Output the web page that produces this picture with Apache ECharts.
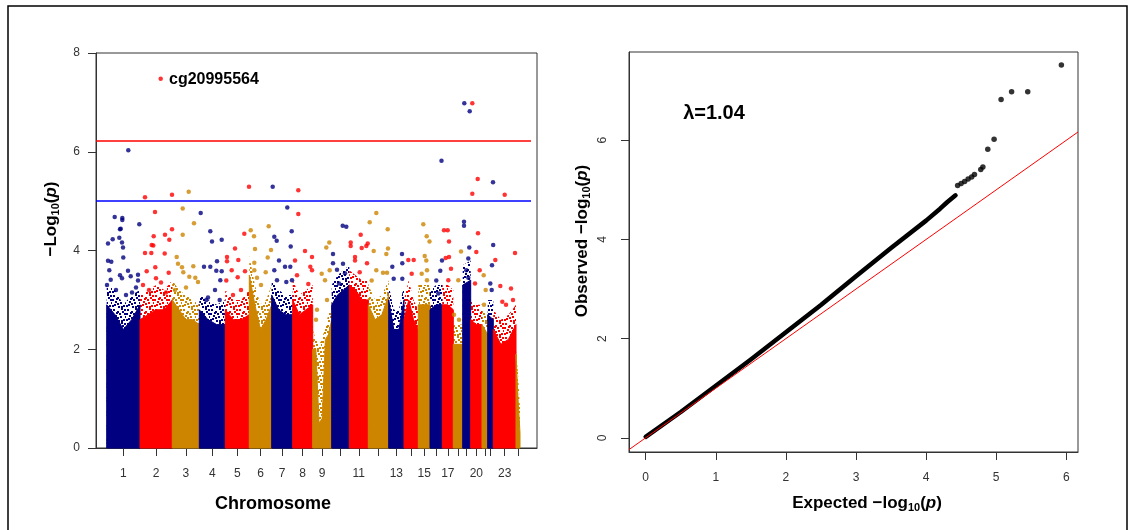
<!DOCTYPE html>
<html>
<head>
<meta charset="utf-8">
<script src="https://cdn.jsdelivr.net/npm/echarts@6/dist/echarts.min.js"></script>
<style>html,body{margin:0;padding:0;background:#fff;}#c{width:1134px;height:530px;}</style>
</head>
<body>
<div id="c"></div>
<script>
// ---------------- DATA ----------------
// Manhattan plot: cumulative genomic position units
const chrNames = ['1','2','3','4','5','6','7','8','9','10','11','12','13','14','15','16','17','18','19','20','21','22','23','24'];
const shownLabels = ['1','2','3','4','5','6','7','8','9','11','13','15','17','20','23'];
const chrBounds = [10.7, 44, 76.3, 103.3, 129.3, 153.3, 175.7, 196.7, 216.7, 235.7, 253.3, 272.3, 292.7, 308, 322.3, 334, 346.3, 357.3, 366.7, 374.7, 386, 391.7, 397.3, 420, 424];
// upper edge of the solid mass of probes, sampled evenly across each chromosome
const chrDenseTop = [
  [2.9, 2.7, 2.4, 2.6, 2.9],
  [2.6, 2.7, 2.8, 2.8, 3.0],
  [3.0, 2.8, 2.6, 2.6, 2.5],
  [2.8, 2.6, 2.5, 2.5],
  [2.8, 2.6, 2.6, 2.7],
  [3.5, 2.9, 2.4, 2.6, 2.9],
  [3.1, 2.8, 2.7, 2.7],
  [3.0, 2.7, 2.8, 2.9],
  [2.0, 2.0, 0.5, 0.6, 2.2, 2.3, 2.6],
  [2.9, 3.1, 3.2, 3.3],
  [3.3, 3.2, 3.0, 3.0],
  [2.9, 2.6, 2.7, 3.1],
  [3.0, 2.4, 2.4, 3.0],
  [2.6, 3.0, 2.6, 2.4],
  [2.9, 2.9, 2.9],
  [2.8, 2.9, 2.9],
  [2.9, 2.9, 2.8],
  [2.1, 2.1],
  [3.3, 3.4],
  [2.6, 2.5, 2.5],
  [2.5, 2.3],
  [2.7, 2.6],
  [2.4, 2.1, 2.2, 2.5],
  [1.9, 1.0, 0.3]
];
// upper edge of the speckled (half-dense) zone above the solid mass
const chrSpeckleTop = [
  [3.3, 3.2, 2.9, 3.1, 3.2],
  [3.1, 3.2, 3.3, 3.2, 3.4],
  [3.4, 3.2, 3.1, 3.0, 2.9],
  [3.1, 3.0, 2.9, 3.0],
  [3.2, 3.0, 3.0, 3.2],
  [3.9, 3.3, 2.9, 3.0, 3.3],
  [3.4, 3.2, 3.1, 3.1],
  [3.4, 3.1, 3.2, 3.3],
  [2.4, 2.2, 2.1, 2.2, 2.5, 2.7, 3.0],
  [3.3, 3.5, 3.6, 3.7],
  [3.6, 3.5, 3.4, 3.4],
  [3.3, 3.0, 3.1, 3.4],
  [3.3, 2.8, 2.8, 3.3],
  [3.0, 3.4, 3.0, 2.8],
  [3.3, 3.3, 3.3],
  [3.2, 3.3, 3.3],
  [3.3, 3.3, 3.2],
  [2.5, 2.5],
  [3.7, 3.8],
  [3.0, 2.9, 2.9],
  [2.8, 2.7],
  [3.0, 3.0],
  [2.8, 2.6, 2.7, 2.9],
  [2.0, 1.5, 0.8]
];
// individual probes standing above the mass: [chromosome, position, -log10(p)]
const sparseProbes = [
  [1,32.3,6.03],[1,18.7,4.68],[1,26.3,4.66],[1,26.3,4.62],[1,24,4.43],[1,43.3,4.53],[1,12,4.14],[1,16.7,4.23],[1,27,4.06],[1,24.7,4.44],[1,23.3,4.26],[1,26,4.16],[1,27.3,3.86],[1,34.7,3.48],[1,32,3.59],[1,42,3.51],[1,42,3.39],[1,12,3.79],[1,15.3,3.77],[1,13.3,3.6],[1,14.7,3.41],[1,24,3.5],[1,26,3.44],[1,11,3.3],[1,20,3.2],[1,36,3.15],[1,40,3.25],[1,30,3.1],
  [2,64.7,7.48],[2,49,5.08],[2,76,5.13],[2,59,4.78],[2,76,4.43],[2,57.7,4.29],[2,69,4.32],[2,73.3,4.22],[2,55.7,4.11],[2,49,3.95],[2,55.3,3.95],[2,57.3,4.1],[2,50.7,3.58],[2,59.3,3.66],[2,60,3.44],[2,68.7,3.94],[2,72.7,3.55],[2,47,3.3],[2,53,3.2],[2,65,3.35],[2,70,3.15],
  [3,92.7,5.19],[3,86.7,4.85],[3,98,4.55],[3,86.7,4.32],[3,80.7,3.87],[3,82,3.73],[3,86,3.66],[3,87.3,3.56],[3,97.3,3.68],[3,99.3,3.45],[3,93.3,3.47],[3,102,3.36],[3,79,3.2],[3,90,3.25],
  [4,104.7,4.76],[4,114.3,4.39],[4,116,4.18],[4,125.7,4.22],[4,108,3.67],[4,112,3.05],[4,121,3.78],[4,114.3,3.67],[4,120.3,3.59],[4,125.7,3.58],[4,124.3,3.4],[4,119,3.2],[4,110.3,3.0],[4,123.7,3.0],
  [5,153,5.29],[5,148.3,4.34],[5,139,4.04],[5,131,3.87],[5,131,3.78],[5,142.3,3.81],[5,141.7,3.46],[5,149,3.58],[5,135.7,3.6],[5,130.3,3.39],[5,145,3.2],[5,137,3.1],
  [6,154.7,4.41],[6,158,4.29],[6,159,4.03],[6,172.7,4.49],[6,158.3,3.75],[6,158.3,3.6],[6,171.7,3.86],[6,169.7,3.56],[6,175,4.01],[6,165,3.3],[6,161,3.45],
  [7,176.7,5.29],[7,191.3,4.87],[7,195.7,4.39],[7,194.7,4.08],[7,178.3,4.28],[7,180.7,4.2],[7,183,3.8],[7,189,3.67],[7,194.3,3.67],[7,178.3,3.6],[7,181,3.4],[7,190.3,3.36],[7,196,3.4],
  [8,202.3,5.22],[8,202.3,4.74],[8,209,3.99],[8,199,3.8],[8,214.3,3.67],[8,216,3.87],[8,201,3.5],[8,216,3.6],[8,212.3,3.32],
  [9,233.3,4.16],[9,230.3,4.06],[9,225.7,3.53],[9,233.7,3.6],[9,229,3.4],[9,221,2.8],[9,220,2.6],[9,231,3.0],
  [10,246.7,4.5],[10,250.3,4.48],[10,237,3.93],[10,237,3.74],[10,247,3.73],[10,241,3.61],[10,249,3.54],[10,243,3.33],
  [11,264.7,4.32],[11,254.7,4.16],[11,254.7,4.09],[11,271.7,4.14],[11,270.3,4.09],[11,265.7,4.05],[11,259,3.87],[11,259,3.8],[11,263.7,3.56],[11,271,3.74],
  [12,280.3,4.76],[12,273.7,4.57],[12,291.7,4.43],[12,292,4.04],[12,277.7,3.99],[12,280.3,3.6],[12,287,3.55],[12,291,3.55],[12,275.7,3.39],[12,290.3,3.93],
  [13,306,3.93],[13,296.3,3.67],[13,297.7,3.43],[13,306.3,3.74],[13,306.3,3.43],
  [14,312.3,3.81],[14,317.7,3.81],[14,315.7,3.53],
  [15,327.3,4.53],[15,330.7,4.29],[15,333.5,4.18],[15,328.7,3.89],[15,325.7,3.53],[15,331,3.4],[15,330.3,3.8],[15,331,3.6],
  [16,345.5,5.82],[16,346,3.8],[16,344.3,3.59],[16,340.3,3.39],[16,342.3,3.13],
  [17,348,4.41],[17,351.7,4.41],[17,353,4.18],[17,353,3.87],[17,355,3.63],[17,349.7,3.85],[17,352.3,3.4],
  [18,365,3.98],[18,362.3,3.4],[18,363,2.6],[18,358,2.7],
  [19,368.3,6.98],[19,373.7,6.82],[19,368,4.58],[19,368,4.5],[19,373.3,4.06],[19,372.3,3.84],[19,370.3,3.6],[19,372.3,3.45],
  [20,376.3,6.98],[20,381.7,5.45],[20,376.3,5.15],[20,382,4.35],[20,380.3,3.97],[20,383.7,3.6],[20,379,3.33],
  [21,387.7,3.5],[21,389.7,3.2],[21,388,2.9],
  [22,397,5.38],[22,397.2,4.11],[22,394.3,3.33],[22,395.7,3.2],[22,396,3.7],
  [23,408.7,5.13],[23,419,3.95],[23,399.3,3.81],[23,404.3,3.28],[23,415,3.23],[23,406.3,2.96],[23,410,2.9],[23,417,3.0]
];
const thresholdBonf = 6.23;
const thresholdSugg = 5.0;
const leadProbe = 'cg20995564';

// QQ plot
const qqBody = [[0,0.02],[0.5,0.52],[1,1.05],[1.5,1.58],[2,2.13],[2.5,2.68],[3,3.26],[3.5,3.83],[4,4.38],[4.2,4.62],[4.3,4.75],[4.42,4.89]];
const qqTail = [[4.45,5.09],[4.5,5.13],[4.55,5.17],[4.6,5.22],[4.65,5.26],[4.69,5.31],[4.78,5.41],[4.81,5.46],[4.88,5.82],[4.97,6.02],[5.07,6.82],[5.22,6.98],[5.45,6.98],[5.93,7.52]];
const lambdaText = 'λ=1.04';
const qqXTicks = [0,1,2,3,4,5,6];
const qqYTicks = [0,2,4,6];
const manYTicks = [0,2,4,6,8];

// ---------------- CHART ----------------
const FONT = "'Liberation Sans', Arial, Helvetica, sans-serif";
const palette = ['#000080', '#FF0000', '#CD8500'];
const chrColor = i => palette[i % 3];
const chrMid = chrNames.map((n, i) => (chrBounds[i] + chrBounds[i + 1]) / 2);
const labelMid = chrMid.filter((m, i) => shownLabels.includes(chrNames[i]));
const qxMin = -0.238, qxMax = 6.167, qyMin = -0.286, qyMax = 7.78;

// speckle texture (styling only): scattered dots on a transparent tile
function makeSpeckle(color) {
  const c = document.createElement('canvas');
  c.width = 14; c.height = 14;
  const g = c.getContext('2d');
  g.fillStyle = color;
  const dots = [[1,1],[5,3],[9,0],[12,5],[3,7],[8,8],[0,11],[11,11],[6,12],[4,4],[10,3],[2,10],[7,5],[13,8],[0,5],[9,12],[5,9],[12,1]];
  dots.forEach(d => { g.fillRect(d[0], d[1], 2, 2); });
  return c;
}
const speckles = palette.map(makeSpeckle);

const chart = echarts.init(document.getElementById('c'), null, {renderer: 'canvas'});

const axisCommon = {
  splitLine: {show: false},
  axisLine: {show: true, onZero: false, lineStyle: {color: '#333', width: 1}},
};

function envelopePoints(api, i, env) {
  const s = chrBounds[i], e = chrBounds[i + 1];
  const pts = [api.coord([s, 0])];
  env.forEach((h, k) => { pts.push(api.coord([s + (e - s) * k / (env.length - 1), h])); });
  pts.push(api.coord([e, 0]));
  return pts;
}

const subRich = {
  b: {fontSize: 17, fontWeight: 'bold', fontFamily: FONT, fill: '#000'},
  s: {fontSize: 11, fontWeight: 'bold', fontFamily: FONT, fill: '#000', padding: [10, 0, 0, 0]},
  i: {fontSize: 17, fontWeight: 'bold', fontStyle: 'italic', fontFamily: FONT, fill: '#000'}
};

const option = {
  animation: false,
  backgroundColor: '#fff',
  grid: [
    {left: 96, top: 53, width: 441, height: 395, show: true, borderColor: '#333', borderWidth: 1},
    {left: 629, top: 52, width: 449, height: 400, show: true, borderColor: '#333', borderWidth: 1}
  ],
  xAxis: [
    Object.assign({}, axisCommon, {
      gridIndex: 0, type: 'value', min: 0, max: 441,
      axisTick: {show: true, length: 8, customValues: chrMid, lineStyle: {color: '#333'}},
      axisLabel: {customValues: labelMid, margin: 20, fontSize: 12, color: '#333', fontFamily: FONT,
        formatter: v => { const k = chrMid.findIndex(m => Math.abs(m - v) < 0.01); return k >= 0 ? chrNames[k] : ''; }}
    }),
    Object.assign({}, axisCommon, {
      gridIndex: 1, type: 'value', min: qxMin, max: qxMax,
      axisTick: {show: true, length: 8, customValues: qqXTicks, lineStyle: {color: '#333'}},
      axisLabel: {customValues: qqXTicks, margin: 20, fontSize: 12, color: '#333', fontFamily: FONT}
    })
  ],
  yAxis: [
    Object.assign({}, axisCommon, {
      gridIndex: 0, type: 'value', min: 0, max: 8,
      axisTick: {show: true, length: 8, customValues: manYTicks, lineStyle: {color: '#333'}},
      axisLabel: {customValues: manYTicks, margin: 16, fontSize: 12, color: '#333', fontFamily: FONT}
    }),
    Object.assign({}, axisCommon, {
      gridIndex: 1, type: 'value', min: qyMin, max: qyMax,
      axisTick: {show: true, length: 8, customValues: qqYTicks, lineStyle: {color: '#333'}},
      axisLabel: {customValues: qqYTicks, rotate: 90, margin: 20, fontSize: 12, color: '#333', fontFamily: FONT}
    })
  ],
  series: [
    {
      type: 'custom', xAxisIndex: 0, yAxisIndex: 0, silent: true, z: 1,
      data: chrNames.map((n, i) => [i]),
      renderItem: (params, api) => {
        const i = api.value(0);
        return {type: 'polygon', shape: {points: envelopePoints(api, i, chrSpeckleTop[i])},
          style: {fill: {image: speckles[i % 3], repeat: 'repeat'}}};
      }
    },
    {
      type: 'custom', xAxisIndex: 0, yAxisIndex: 0, silent: true, z: 2,
      data: chrNames.map((n, i) => [i]),
      renderItem: (params, api) => {
        const i = api.value(0);
        return {type: 'polygon', shape: {points: envelopePoints(api, i, chrDenseTop[i])},
          style: {fill: chrColor(i), stroke: chrColor(i), lineWidth: 1}};
      }
    },
    {
      type: 'scatter', xAxisIndex: 0, yAxisIndex: 0, silent: true, z: 3,
      symbol: 'circle', symbolSize: 4.5,
      data: sparseProbes.map(p => ({value: [p[1], p[2]], itemStyle: {color: chrColor(p[0] - 1)}})),
      markLine: {
        silent: true, symbol: 'none', label: {show: false},
        data: [
          [{coord: [0, thresholdBonf], lineStyle: {color: '#FF0000', width: 1.6, type: 'solid'}}, {coord: [435, thresholdBonf]}],
          [{coord: [0, thresholdSugg], lineStyle: {color: '#0000FF', width: 1.6, type: 'solid'}}, {coord: [435, thresholdSugg]}]
        ]
      }
    },
    {
      type: 'line', xAxisIndex: 1, yAxisIndex: 1, silent: true,
      data: qqBody, showSymbol: false, symbol: 'none',
      lineStyle: {color: '#000', width: 4.5, cap: 'round', join: 'round'},
      markLine: {
        silent: true, symbol: 'none', label: {show: false},
        data: [[{coord: [qxMin, qxMin], lineStyle: {color: '#FF0000', width: 1, type: 'solid'}}, {coord: [qxMax, qxMax]}]]
      }
    },
    {
      type: 'scatter', xAxisIndex: 1, yAxisIndex: 1, silent: true,
      symbol: 'circle', symbolSize: 5.5, itemStyle: {color: '#000'},
      data: qqTail
    }
  ],
  graphic: [
    {type: 'rect', silent: true, shape: {x: 8, y: 6, width: 1119, height: 600}, style: {fill: null, stroke: '#000', lineWidth: 1.5}},
    {type: 'text', silent: true, x: 169, y: 80, style: {text: leadProbe, font: 'bold 16px ' + FONT, fill: '#000', align: 'left', verticalAlign: 'middle'}},
    {type: 'text', silent: true, x: 273, y: 504, style: {text: 'Chromosome', font: 'bold 18px ' + FONT, fill: '#000', align: 'center', verticalAlign: 'middle'}},
    {type: 'text', silent: true, x: 51, y: 219, rotation: Math.PI / 2,
      style: {text: '{b|−Log}{s|10}{b|(}{i|p}{b|)}', align: 'center', verticalAlign: 'middle', rich: subRich}},
    {type: 'text', silent: true, x: 714, y: 113, style: {text: lambdaText, font: 'bold 20px ' + FONT, fill: '#000', align: 'center', verticalAlign: 'middle'}},
    {type: 'text', silent: true, x: 867, y: 503,
      style: {text: '{b|Expected −log}{s|10}{b|(}{i|p}{b|)}', align: 'center', verticalAlign: 'middle', rich: subRich}},
    {type: 'text', silent: true, x: 582, y: 241, rotation: Math.PI / 2,
      style: {text: '{b|Observed −log}{s|10}{b|(}{i|p}{b|)}', align: 'center', verticalAlign: 'middle', rich: subRich}}
  ]
};
chart.setOption(option);
</script>
</body>
</html>
